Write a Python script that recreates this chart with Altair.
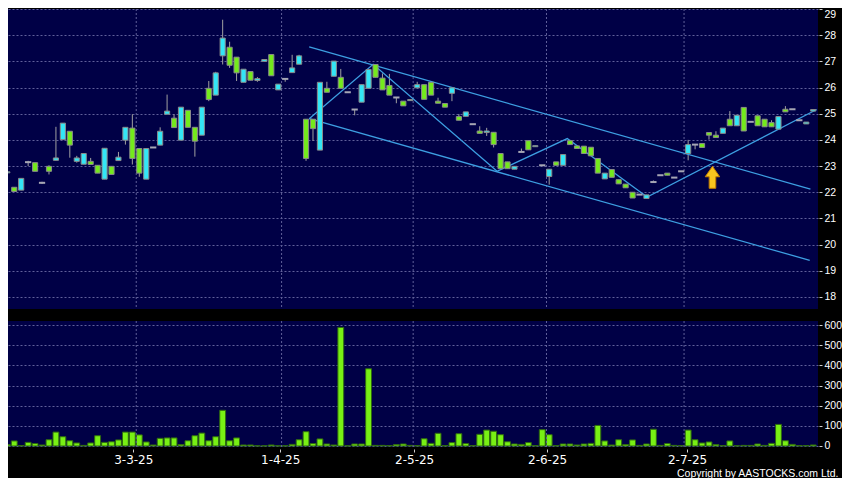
import json
import altair as alt
import pandas as pd

# ---------------- data ----------------
opens = [22.74, 22.19, 22.08, 23.15, 23.13, 22.36, 22.99, 23.22, 24.01, 24.33,
         23.18, 23.07, 23.18, 23.03, 22.50, 22.99, 23.21, 23.99, 24.45, 23.67,
         22.50, 23.71, 23.80, 24.98, 24.83, 23.99, 25.13, 24.48, 24.18, 25.97,
         25.71, 27.21, 27.54, 27.16, 26.20, 26.61, 26.27, 27.00, 27.26, 25.91,
         26.33, 26.57, 26.89, 24.79, 24.79, 23.61, 25.97, 26.43, 26.39, 25.82,
         25.16, 25.44, 25.97, 26.88, 26.36, 26.08, 25.62, 25.48, 25.50, 25.99,
         26.11, 26.20, 25.48, 25.39, 25.78, 24.89, 24.90, 24.60, 24.34, 24.28,
         24.29, 23.48, 23.16, 22.88, 23.54, 23.97, 23.74, 23.03, 22.60, 23.16,
         23.03, 23.97, 23.77, 23.76, 23.72, 23.29, 22.51, 22.87, 22.48, 22.31,
         22.00, 21.91, 21.76, 22.39, 22.65, 22.73, 22.56, 22.80, 23.48, 23.82,
         23.86, 24.28, 24.18, 24.25, 24.79, 24.54, 25.24, 24.69, 24.92, 24.79,
         24.66, 24.41, 25.17, 25.17, 24.75, 24.61, 25.10]
highs = [22.78, 22.19, 22.53, 23.20, 23.13, 22.40, 23.03, 24.50, 24.64, 24.33,
         23.39, 23.48, 23.31, 23.03, 23.68, 22.99, 23.54, 24.48, 24.98, 23.67,
         23.67, 23.71, 24.48, 25.73, 24.98, 25.25, 25.13, 24.48, 25.25, 26.25,
         26.60, 28.59, 27.75, 27.16, 26.70, 26.61, 26.40, 27.07, 27.26, 26.13,
         26.33, 27.25, 27.25, 24.79, 24.79, 26.20, 26.22, 27.01, 26.71, 25.82,
         25.16, 26.11, 26.69, 26.88, 26.54, 26.52, 25.62, 25.48, 25.54, 26.22,
         26.11, 26.20, 25.61, 25.39, 25.99, 24.99, 25.07, 24.60, 24.52, 24.46,
         24.29, 23.48, 23.16, 22.99, 23.67, 23.97, 23.78, 23.03, 22.88, 23.16,
         23.44, 24.00, 23.77, 23.76, 23.72, 23.29, 22.73, 22.87, 22.48, 22.31,
         22.00, 21.91, 21.90, 22.45, 22.65, 22.73, 22.56, 22.80, 24.00, 23.82,
         23.86, 24.28, 24.33, 24.45, 25.10, 24.94, 25.24, 24.69, 24.92, 24.79,
         24.75, 24.89, 25.29, 25.17, 24.75, 24.68, 25.16]
lows = [22.65, 22.01, 22.08, 23.00, 22.80, 22.32, 22.68, 23.22, 24.01, 23.32,
        23.13, 23.07, 23.06, 22.73, 22.50, 22.68, 23.21, 23.82, 23.06, 22.59,
        22.50, 23.71, 23.80, 24.98, 24.47, 23.99, 24.48, 23.36, 24.18, 25.48,
        25.71, 26.88, 26.75, 26.25, 26.20, 26.28, 26.22, 27.00, 26.45, 25.91,
        26.22, 26.57, 26.89, 23.20, 23.96, 23.61, 25.82, 26.43, 25.97, 25.82,
        24.94, 25.44, 25.97, 26.39, 25.91, 25.71, 25.40, 25.30, 25.50, 25.99,
        25.55, 25.71, 25.40, 25.25, 25.48, 24.75, 24.90, 24.60, 24.25, 24.15,
        23.71, 22.90, 22.90, 22.88, 23.54, 23.62, 23.74, 23.03, 22.29, 23.03,
        23.03, 23.82, 23.67, 23.48, 23.39, 22.73, 22.51, 22.57, 22.32, 22.17,
        21.78, 21.91, 21.76, 22.39, 22.65, 22.65, 22.56, 22.80, 23.22, 23.64,
        23.71, 24.01, 24.09, 24.25, 24.54, 24.54, 24.34, 24.69, 24.54, 24.50,
        24.50, 24.41, 25.07, 25.17, 24.75, 24.61, 25.10]
closes = [22.78, 22.03, 22.53, 23.15, 22.80, 22.36, 22.80, 23.31, 24.64, 23.80,
          23.31, 23.48, 23.06, 22.73, 23.68, 22.68, 23.34, 24.48, 23.29, 22.73,
          23.67, 23.71, 24.33, 25.10, 24.47, 25.25, 24.48, 23.95, 25.25, 25.54,
          26.56, 27.89, 26.85, 26.56, 26.70, 26.28, 26.34, 27.07, 26.45, 26.13,
          26.33, 26.75, 27.21, 23.29, 24.43, 26.20, 25.82, 27.01, 25.97, 25.82,
          25.16, 26.11, 26.69, 26.39, 25.91, 25.71, 25.62, 25.30, 25.54, 26.11,
          25.55, 25.71, 25.40, 25.25, 25.99, 24.75, 25.07, 24.60, 24.25, 24.34,
          23.82, 22.90, 22.90, 22.99, 23.54, 23.62, 23.78, 23.03, 22.88, 23.03,
          23.44, 23.82, 23.67, 23.48, 23.39, 22.73, 22.73, 22.57, 22.32, 22.17,
          21.78, 21.91, 21.90, 22.39, 22.65, 22.65, 22.56, 22.80, 23.82, 23.82,
          23.71, 24.18, 24.09, 24.45, 24.54, 24.94, 24.34, 24.69, 24.54, 24.50,
          24.50, 24.89, 25.07, 25.17, 24.75, 24.68, 25.16]
volumes = [7, 25, 2, 18, 12, 5, 31, 69, 46, 26,
           15, 3, 15, 51, 18, 21, 30, 69, 69, 55,
           20, 5, 38, 40, 40, 7, 26, 51, 64, 26,
           46, 177, 26, 40, 5, 5, 1, 1, 5, 1,
           1, 8, 31, 71, 12, 35, 10, 5, 588, 1,
           10, 10, 383, 3, 3, 2, 7, 10, 3, 2,
           36, 13, 63, 2, 17, 61, 12, 2, 58, 79,
           73, 56, 21, 10, 8, 17, 2, 81, 56, 2,
           10, 10, 5, 10, 13, 102, 25, 5, 31, 7,
           30, 3, 10, 83, 3, 12, 3, 2, 79, 31,
           15, 20, 7, 2, 25, 1, 3, 3, 10, 3,
           13, 107, 26, 8, 2, 2, 5]

date_tick_pos = [18.13, 39.28, 58.56, 77.70, 97.84]
date_tick_labels = ["3-3-25", "1-4-25", "2-5-25", "2-6-25", "2-7-25"]
date_grid_pos = [18.56, 39.48, 58.42, 77.61, 97.41]

price_ticks = list(range(18, 30))
volume_ticks = [0, 100, 200, 300, 400, 500, 600]

# drawn trend lines (segment id, x in trading-day index, price)
trend_seg = ["upper", "upper", "lower", "lower",
             "zig", "zig", "zig", "zig", "zig", "zig"]
trend_x = [43.45, 115.6, 43.45, 115.5,
           43.45, 52.66, 70.5, 80.6, 92.1, 116.5]
trend_y = [27.55, 22.12, 24.81, 19.40,
           24.81, 26.89, 22.80, 24.05, 21.82, 25.16]

arrow_x = [101.5]
arrow_y = [22.57]

copyright_text = "Copyright by AASTOCKS.com Ltd."

# ---------------- tables ----------------
n = len(opens)
df = pd.DataFrame({
    "idx": list(range(n)),
    "open": opens, "high": highs, "low": lows, "close": closes,
    "vol": volumes,
})
df["dir"] = ["up" if c > o else ("down" if c < o else "flat")
             for o, c in zip(opens, closes)]

trend_df = pd.DataFrame({"seg": trend_seg, "x": trend_x, "y": trend_y,
                         "ord": list(range(len(trend_x)))})
grid_df = pd.DataFrame({"g": date_grid_pos})
arrow_df = pd.DataFrame({"x": arrow_x, "y": arrow_y})

# ---------------- styles ----------------
NAVY = "#000046"
GRID = "#60609a"
CYAN = "#33e6f6"
LIME = "#74ea1c"
FONT_Y = "Liberation Sans"
FONT_X = "DejaVu Sans"
W = 810

xscale = alt.Scale(domain=[0.1007, 116.69], nice=False, zero=False)
pscale = alt.Scale(domain=[17.54, 29.0], nice=False, zero=False)
vscale = alt.Scale(domain=[-5, 620], nice=False, zero=False)

yaxis_common = dict(orient="right", grid=True, gridColor=GRID,
                    gridDash=[2, 2], gridWidth=1, domain=False, ticks=True,
                    tickColor="#cfcfcf", tickSize=3, offset=1,
                    labelPadding=2, labelColor="white", labelFont=FONT_Y,
                    labelFontSize=10.5, labelOverlap=False, title=None)
yaxis_price = alt.Axis(values=price_ticks, labelFlush=3, labelFlushOffset=0,
                       **yaxis_common)
yaxis_vol = alt.Axis(values=volume_ticks, labelFlush=False, **yaxis_common)

label_expr = "{}[indexof({}, datum.value)]".format(
    json.dumps(date_tick_labels).replace('"', "'"), json.dumps(date_tick_pos))
xaxis_vol = alt.Axis(values=date_tick_pos, labelExpr=label_expr, grid=False,
                     domain=False, ticks=True, tickColor="#cfcfcf", tickSize=3,
                     offset=2, labelPadding=2, labelColor="white",
                     labelFont=FONT_X, labelFontSize=12, labelOverlap=False,
                     labelFlush=False,
                     title=copyright_text, titleColor="white",
                     titleFont=FONT_Y, titleFontSize=10.5,
                     titleFontWeight="normal", titleAlign="right",
                     titleAnchor="end", titleBaseline="top",
                     titleX=830, titleY=19)

base = alt.Chart(df)

vgrid_price = alt.Chart(grid_df).mark_rule(color=GRID, strokeDash=[2, 2],
                                           strokeWidth=1).encode(
    x=alt.X("g:Q", scale=xscale, axis=None))

wicks = base.mark_rule(color="#a0a0a0", strokeWidth=1, clip=True).encode(
    x=alt.X("idx:Q", scale=xscale, axis=None),
    y=alt.Y("low:Q", scale=pscale, axis=yaxis_price),
    y2="high:Q")

bodies = base.transform_filter("datum.dir != 'flat'").transform_calculate(
    xl="datum.idx - 0.37", xr="datum.idx + 0.37"
).mark_rect(stroke="#8a8a8a", strokeWidth=1, clip=True).encode(
    x=alt.X("xl:Q", scale=xscale, axis=None),
    x2="xr:Q",
    y=alt.Y("open:Q", scale=pscale, axis=yaxis_price),
    y2="close:Q",
    fill=alt.Fill("dir:N", scale=alt.Scale(domain=["up", "down"],
                                           range=[CYAN, LIME]), legend=None))

dojis = base.transform_filter("datum.dir == 'flat'").transform_calculate(
    xl="datum.idx - 0.45", xr="datum.idx + 0.45"
).mark_rule(color="#a6a6b4", strokeWidth=2, clip=True).encode(
    x=alt.X("xl:Q", scale=xscale, axis=None),
    x2="xr:Q",
    y=alt.Y("close:Q", scale=pscale, axis=yaxis_price))

trend = alt.Chart(trend_df).mark_line(color="#3d9fe2", strokeWidth=1.3,
                                      clip=True).encode(
    x=alt.X("x:Q", scale=xscale, axis=None),
    y=alt.Y("y:Q", scale=pscale, axis=yaxis_price),
    detail="seg:N",
    order="ord:Q")

arrow_path = ("M0,-1 L0.66,-0.05 L0.3,-0.05 L0.3,1 L-0.3,1 "
              "L-0.3,-0.05 L-0.66,-0.05 Z")
arrow = alt.Chart(arrow_df).mark_point(shape=arrow_path, size=484,
                                       filled=True, fill="#f7c51e",
                                       stroke="#c27c00", strokeWidth=1,
                                       opacity=1).encode(
    x=alt.X("x:Q", scale=xscale, axis=None),
    y=alt.Y("y:Q", scale=pscale, axis=yaxis_price))

price = alt.layer(wicks, vgrid_price, trend, bodies, dojis, arrow).properties(
    width=W, height=300)

vol_bars = base.transform_calculate(
    xl="datum.idx - 0.42", xr="datum.idx + 0.42"
).mark_rect(fill="#78f014", stroke="#2f6a10", strokeWidth=1,
            clip=True).encode(
    x=alt.X("xl:Q", scale=xscale, axis=xaxis_vol),
    x2="xr:Q",
    y=alt.Y("vol:Q", scale=vscale, axis=yaxis_vol),
    y2=alt.datum(0))

vgrid_vol = alt.Chart(grid_df).mark_rule(color=GRID, strokeDash=[2, 2],
                                         strokeWidth=1).encode(
    x=alt.X("g:Q", scale=xscale, axis=xaxis_vol))

volume = alt.layer(vol_bars, vgrid_vol).properties(width=W, height=126)

chart = alt.vconcat(price, volume, spacing=10).properties(
    background="#000000",
    padding={"left": 0, "top": 0, "right": 0, "bottom": 0},
).configure_view(fill=NAVY, strokeWidth=0)

chart.save("out.html", embed_options={"renderer": "svg", "actions": False})
